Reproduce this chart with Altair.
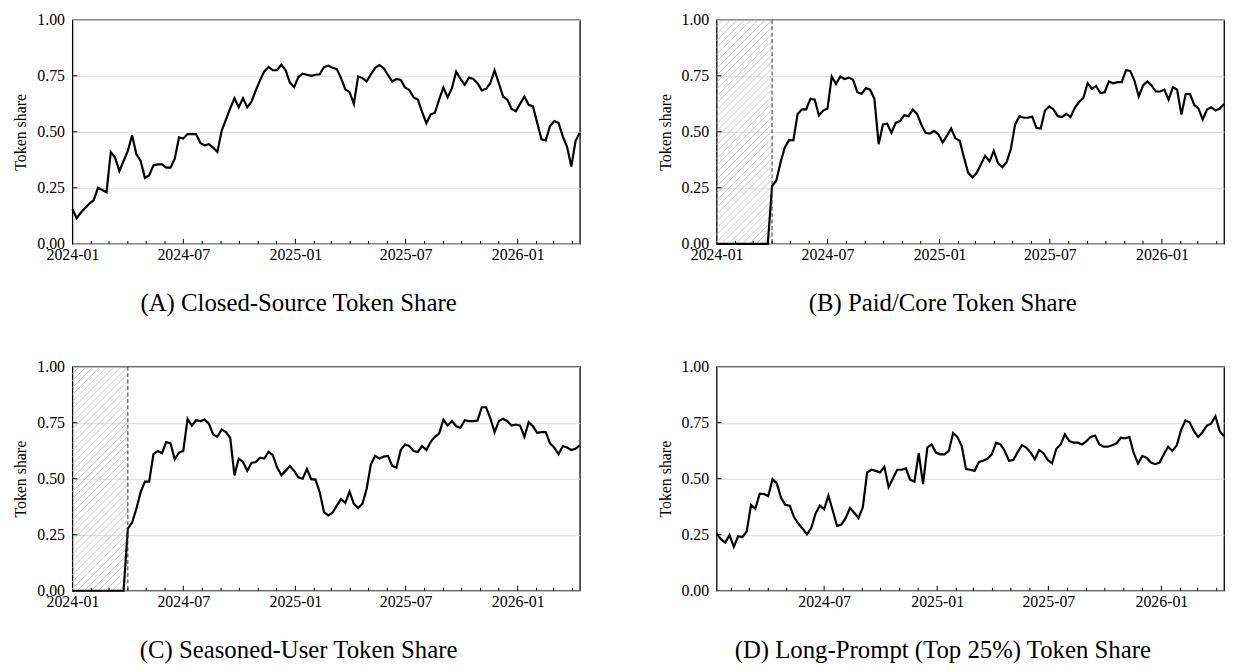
import altair as alt
import pandas as pd

# ---------------- data ----------------
weeks = pd.date_range("2024-01-01", periods=120, freq="7D")

closed_share = [
    0.155, 0.115, 0.14, 0.16, 0.18, 0.195, 0.25, 0.24, 0.23, 0.41,
    0.385, 0.325, 0.37, 0.415, 0.485, 0.40, 0.37, 0.295, 0.305, 0.35,
    0.355, 0.355, 0.34, 0.34, 0.38, 0.475, 0.47, 0.49, 0.49, 0.49,
    0.45, 0.44, 0.445, 0.43, 0.41, 0.505, 0.555, 0.605, 0.65, 0.61,
    0.65, 0.61, 0.635, 0.685, 0.73, 0.77, 0.79, 0.775, 0.775, 0.80,
    0.775, 0.72, 0.70, 0.745, 0.76, 0.755, 0.75, 0.755, 0.757, 0.79,
    0.795, 0.786, 0.78, 0.74, 0.69, 0.677, 0.625, 0.747, 0.74, 0.725,
    0.757, 0.786, 0.798, 0.784, 0.754, 0.725, 0.736, 0.732, 0.698, 0.687,
    0.654, 0.644, 0.589, 0.538, 0.577, 0.585, 0.644, 0.698, 0.654, 0.695,
    0.769, 0.736, 0.71, 0.742, 0.736, 0.717, 0.685, 0.692, 0.717, 0.775,
    0.717, 0.658, 0.644, 0.602, 0.592, 0.626, 0.658, 0.621, 0.614, 0.54,
    0.467, 0.462, 0.526, 0.548, 0.54, 0.48, 0.433, 0.345, 0.46, 0.496,
]

paid_share = [
    0, 0, 0, 0, 0, 0, 0, 0, 0, 0,
    0, 0, 0, 0.258, 0.283, 0.364, 0.43, 0.464, 0.462, 0.58,
    0.60, 0.60, 0.648, 0.644, 0.573, 0.595, 0.604, 0.747, 0.713, 0.747,
    0.736, 0.742, 0.732, 0.677, 0.669, 0.695, 0.688, 0.648, 0.445, 0.533,
    0.536, 0.496, 0.54, 0.548, 0.574, 0.57, 0.60, 0.58, 0.533, 0.496,
    0.492, 0.504, 0.489, 0.452, 0.482, 0.515, 0.471, 0.46, 0.386, 0.317,
    0.297, 0.317, 0.356, 0.393, 0.368, 0.415, 0.36, 0.342, 0.364, 0.423,
    0.533, 0.57, 0.563, 0.563, 0.568, 0.518, 0.515, 0.595, 0.614, 0.60,
    0.57, 0.566, 0.58, 0.566, 0.607, 0.633, 0.651, 0.717, 0.692, 0.705,
    0.673, 0.677, 0.725, 0.717, 0.722, 0.722, 0.775, 0.772, 0.728, 0.658,
    0.707, 0.725, 0.707, 0.68, 0.68, 0.688, 0.644, 0.70, 0.688, 0.577,
    0.669, 0.669, 0.621, 0.604, 0.555, 0.60, 0.61, 0.595, 0.604, 0.624,
]

seasoned_share = [
    0, 0, 0, 0, 0, 0, 0, 0, 0, 0,
    0, 0, 0, 0.277, 0.304, 0.366, 0.44, 0.487, 0.487, 0.61,
    0.624, 0.614, 0.664, 0.658, 0.587, 0.617, 0.624, 0.767, 0.737, 0.761,
    0.757, 0.764, 0.746, 0.698, 0.687, 0.72, 0.708, 0.683, 0.515, 0.59,
    0.575, 0.535, 0.57, 0.575, 0.594, 0.59, 0.62, 0.605, 0.55, 0.516,
    0.535, 0.557, 0.535, 0.506, 0.50, 0.543, 0.498, 0.496, 0.44, 0.351,
    0.336, 0.348, 0.38, 0.41, 0.392, 0.442, 0.388, 0.369, 0.388, 0.454,
    0.565, 0.602, 0.59, 0.599, 0.602, 0.557, 0.55, 0.628, 0.653, 0.646,
    0.624, 0.619, 0.646, 0.628, 0.664, 0.687, 0.702, 0.764, 0.737, 0.757,
    0.734, 0.727, 0.761, 0.757, 0.757, 0.76, 0.819, 0.819, 0.771, 0.708,
    0.757, 0.768, 0.757, 0.737, 0.742, 0.737, 0.687, 0.752, 0.734, 0.705,
    0.708, 0.708, 0.658, 0.639, 0.609, 0.646, 0.639, 0.628, 0.634, 0.649,
]

# starts one week later (2024-01-08)
long_prompt_share = [
    0.255, 0.23, 0.215, 0.248, 0.196, 0.243, 0.24, 0.265, 0.383,
    0.366, 0.432, 0.432, 0.422, 0.498, 0.479, 0.414, 0.383, 0.38, 0.329,
    0.30, 0.277, 0.252, 0.28, 0.344, 0.38, 0.363, 0.425, 0.358, 0.289,
    0.295, 0.324, 0.369, 0.348, 0.324, 0.373, 0.528, 0.54, 0.535, 0.528,
    0.553, 0.462, 0.501, 0.54, 0.54, 0.546, 0.496, 0.487, 0.614, 0.476,
    0.639, 0.653, 0.617, 0.609, 0.609, 0.624, 0.705, 0.686, 0.646, 0.543,
    0.54, 0.535, 0.575, 0.58, 0.59, 0.609, 0.661, 0.653, 0.624, 0.58,
    0.584, 0.619, 0.65, 0.639, 0.617, 0.587, 0.628, 0.614, 0.584, 0.569,
    0.634, 0.653, 0.698, 0.668, 0.661, 0.661, 0.653, 0.668, 0.687, 0.693,
    0.653, 0.643, 0.643, 0.649, 0.658, 0.683, 0.68, 0.686, 0.614, 0.568,
    0.602, 0.593, 0.572, 0.565, 0.572, 0.609, 0.643, 0.624, 0.649, 0.717,
    0.76, 0.752, 0.712, 0.686, 0.708, 0.737, 0.746, 0.779, 0.712, 0.69,
]

panel_titles = [
    "(A) Closed-Source Token Share",
    "(B) Paid/Core Token Share",
    "(C) Seasoned-User Token Share",
    "(D) Long-Prompt (Top 25%) Token Share",
]
x_label_dates = ["2024-01-01", "2024-07-01", "2025-01-01", "2025-07-01", "2026-01-01"]
y_tick_values = [0.0, 0.25, 0.5, 0.75, 1.0]
missing_until = "2024-04-01"
y_title = "Token share"

# ---------------- layout / style ----------------
W, H = 512, 226
FONT = "Liberation Serif"


def ms(s):
    return int(pd.Timestamp(s, tz="UTC").value // 10**6)


def iso(ts):
    return pd.Timestamp(ts).strftime("%Y-%m-%dT%H:%M:%SZ")


month_starts = pd.date_range("2024-02-01", "2026-04-01", freq="MS")
major_months = [d.strftime("%Y-%m-%d") for d in month_starts if d.month in (1, 7)]
minor_months = [d.strftime("%Y-%m-%d") for d in month_starts if d.month not in (1, 7)]


def panel(dates, values, title, dom_start, dom_end, hatch=False):
    df = pd.DataFrame({"date": [d.strftime("%Y-%m-%d") for d in dates], "share": values})
    xscale = alt.Scale(type="utc", domain=[ms(dom_start), ms(dom_end)], nice=False)
    yscale = alt.Scale(domain=[0, 1], nice=False)
    start_ts = pd.Timestamp(dom_start)
    label_vals = [ms(d) for d in x_label_dates if pd.Timestamp(d) >= start_ts]

    layers = []

    if hatch:
        total_days = (pd.Timestamp(dom_end) - pd.Timestamp(dom_start)).days
        px_per_day = W / total_days
        K = H / px_per_day  # days per unit of y for a 45 degree line
        region = (pd.Timestamp(missing_until) - pd.Timestamp(dom_start)).days
        step = 7.0 / px_per_day
        segs = []
        c = -K
        while c < region:
            v_lo = max(0.0, -c / K)
            v_hi = min(1.0, (region - c) / K)
            if v_hi > v_lo:
                segs.append({
                    "date": iso(start_ts + pd.Timedelta(days=c + v_lo * K)),
                    "date_end": iso(start_ts + pd.Timedelta(days=c + v_hi * K)),
                    "share": v_lo, "share_end": v_hi,
                })
            c += step
        hdf = pd.DataFrame(segs)
        layers.append(
            alt.Chart(hdf).mark_rule(color="#c4c4c4", strokeWidth=0.9).encode(
                x=alt.X("date:T", scale=xscale),
                x2="date_end:T",
                y=alt.Y("share:Q", scale=yscale),
                y2="share_end:Q",
            )
        )

    line = alt.Chart(df).mark_line(color="black", strokeWidth=2.2).encode(
        x=alt.X(
            "date:T", scale=xscale,
            axis=alt.Axis(
                values=label_vals,
                labelExpr="utcFormat(datum.value, '%Y-%m')",
                title=None,
            ),
        ),
        y=alt.Y(
            "share:Q", scale=yscale,
            axis=alt.Axis(values=y_tick_values, format=".2f", title=y_title),
        ),
    )
    layers.append(line)

    if hatch:
        layers.append(
            alt.Chart(pd.DataFrame({"date": [missing_until]})).mark_rule(
                color="#333333", strokeWidth=1, strokeDash=[4, 2.5]
            ).encode(x=alt.X("date:T", scale=xscale))
        )

    maj = [d for d in major_months if pd.Timestamp(d) > start_ts]
    mino = [d for d in minor_months if pd.Timestamp(d) > start_ts]
    layers.append(
        alt.Chart(pd.DataFrame({"date": maj})).mark_rule(color="black", strokeWidth=1).encode(
            x=alt.X("date:T", scale=xscale), y=alt.value(H), y2=alt.value(H - 5)
        )
    )
    layers.append(
        alt.Chart(pd.DataFrame({"date": mino})).mark_rule(color="black", strokeWidth=1).encode(
            x=alt.X("date:T", scale=xscale), y=alt.value(H), y2=alt.value(H - 3)
        )
    )
    layers.append(
        alt.Chart(pd.DataFrame({"share": [0.25, 0.5, 0.75]})).mark_rule(color="black", strokeWidth=1).encode(
            y=alt.Y("share:Q", scale=yscale), x=alt.value(0), x2=alt.value(5)
        )
    )

    return alt.layer(*layers).properties(
        width=W, height=H,
        title=alt.TitleParams(
            text=title, orient="bottom", anchor="middle", frame="bounds",
            fontSize=25, font=FONT, fontWeight="normal", color="black", offset=29,
        ),
    )


end_date = weeks[-1].strftime("%Y-%m-%d")
pA = panel(weeks, closed_share, panel_titles[0], "2024-01-01", end_date)
pB = panel(weeks, paid_share, panel_titles[1], "2024-01-01", end_date, hatch=True)
pC = panel(weeks, seasoned_share, panel_titles[2], "2024-01-01", end_date, hatch=True)
pD = panel(weeks[1:], long_prompt_share, panel_titles[3], weeks[1].strftime("%Y-%m-%d"), end_date)

chart = alt.vconcat(
    alt.hconcat(pA, pB, spacing=71),
    alt.hconcat(pC, pD, spacing=71),
    spacing=41,
).properties(
    padding={"left": 4, "top": 0, "right": 0, "bottom": 0},
    background="white",
).configure_view(
    stroke="black", strokeWidth=1.3
).configure_axis(
    labelFont=FONT, labelFontSize=16, labelColor="black",
    titleFont=FONT, titleFontSize=16, titleFontWeight="normal", titleColor="black",
    domain=False, ticks=False, labelFlush=False, labelOverlap=False,
    gridColor="#d9d9d9", gridWidth=1,
).configure_axisX(
    grid=False, labelPadding=3,
).configure_axisY(
    grid=True, labelPadding=8, titlePadding=8,
)

chart.save("out.html", embed_options={"renderer": "svg", "actions": False})
